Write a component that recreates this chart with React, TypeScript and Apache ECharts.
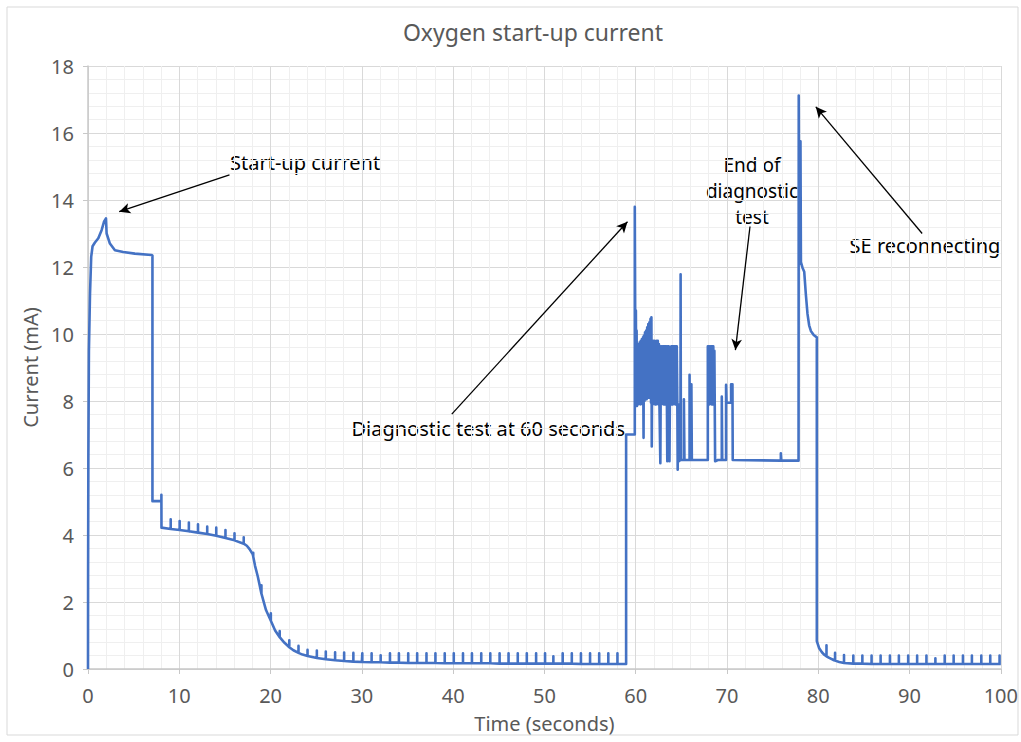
import React, { useEffect, useRef } from "react";
import * as echarts from "echarts";

// ---- Data (time in seconds, current in mA) ----
const startUp: [number, number][] = [
  [0, 0], [0.01, 2.86], [0.04, 6.3], [0.1, 9.5], [0.22, 11.2], [0.35, 12.3], [0.5, 12.62],
  [0.76, 12.73], [1.13, 12.86], [1.49, 13.1], [1.75, 13.35], [1.97, 13.45], [2.04, 13.0],
  [2.4, 12.7], [2.95, 12.5], [3.86, 12.45], [5.13, 12.4], [6.95, 12.36], [7.06, 12.34],
  [7.06, 5.01], [8.04, 5.01], [8.04, 5.2], [8.05, 4.22],
];

const midCurve: [number, number][] = [
  [8.06, 4.22], [17.4, 3.68], [17.7, 3.58], [18.05, 3.42], [18.3, 3.08], [18.6, 2.76],
  [19.5, 1.76], [20.5, 1.15], [21.5, 0.79], [22.5, 0.56], [23.5, 0.43], [30.0, 0.21],
  [58.95, 0.15],
];

// [time, base, peak]
const midSpikes: [number, number, number][] = [
  [9.06, 4.18, 4.47], [10.04, 4.15, 4.42], [11.05, 4.11, 4.37], [12.05, 4.07, 4.32],
  [13.06, 4.03, 4.25], [14.05, 3.98, 4.22], [15.06, 3.91, 4.15], [16.05, 3.84, 4.05],
  [17.06, 3.74, 3.93], [18.1, 3.36, 3.47], [19.0, 2.25, 2.5], [20.03, 1.44, 1.66],
  [21.0, 0.95, 1.13], [22.05, 0.65, 0.86], [23.06, 0.48, 0.69], [24.05, 0.39, 0.57],
  [25.07, 0.33, 0.55], [26.05, 0.29, 0.52], [27.07, 0.26, 0.5], [28.06, 0.24, 0.49],
  [29.07, 0.22, 0.48], [30.05, 0.21, 0.47], [31.07, 0.2, 0.47], [32.06, 0.2, 0.41],
  [33.08, 0.19, 0.47], [34.06, 0.19, 0.47], [35.08, 0.18, 0.47], [36.06, 0.18, 0.47],
  [37.08, 0.18, 0.47], [38.06, 0.18, 0.47], [39.08, 0.17, 0.47], [40.07, 0.17, 0.47],
  [41.08, 0.17, 0.47], [42.06, 0.17, 0.47], [43.08, 0.17, 0.47], [44.07, 0.17, 0.47],
  [45.09, 0.16, 0.47], [46.07, 0.16, 0.47], [47.08, 0.16, 0.47], [48.07, 0.16, 0.47],
  [49.09, 0.16, 0.47], [50.07, 0.16, 0.47], [50.98, 0.16, 0.38], [52.0, 0.16, 0.47],
  [53.0, 0.16, 0.47], [54.0, 0.15, 0.47], [55.0, 0.15, 0.47], [56.0, 0.15, 0.47],
  [57.0, 0.15, 0.47], [58.0, 0.15, 0.47],
];

const diagnostic: [number, number][] = [
  [58.95, 7.0], [59.9, 7.0], [59.9, 13.8], [59.94, 10.8], [59.98, 9.2], [60.02, 10.7], [60.06, 7.9],
  [60.1, 10.1], [60.14, 7.85], [60.2, 9.6], [60.26, 7.9], [60.32, 9.7], [60.38, 7.95], [60.44, 9.75],
  [60.5, 7.9], [60.56, 9.8], [60.62, 8.0], [60.68, 9.85], [60.74, 7.9], [60.8, 9.9], [60.86, 6.9],
  [60.9, 9.95], [60.96, 8.0], [61.02, 10.05], [61.08, 8.1], [61.14, 10.1], [61.2, 8.05],
  [61.26, 10.2], [61.32, 8.15], [61.38, 10.3], [61.44, 8.1], [61.5, 10.35], [61.56, 8.2],
  [61.62, 10.45], [61.68, 7.95], [61.72, 10.5], [61.76, 6.64],
  [61.82, 9.8], [61.88, 7.9], [61.94, 9.8], [62.0, 7.95], [62.06, 9.8], [62.12, 7.9], [62.18, 9.75],
  [62.24, 7.9], [62.3, 9.8], [62.36, 7.95], [62.42, 9.8], [62.48, 7.9], [62.54, 9.7], [62.6, 7.9],
  [62.7, 6.14],
  [62.76, 9.63], [62.82, 7.9], [62.88, 9.63], [62.94, 7.95], [63.0, 9.63], [63.06, 7.9],
  [63.12, 9.63], [63.18, 7.9], [63.24, 9.63], [63.3, 7.95], [63.36, 9.63], [63.42, 7.9],
  [63.46, 6.2], [63.5, 9.63], [63.56, 7.9], [63.62, 9.63], [63.7, 6.2], [63.74, 7.9],
  [63.9, 9.63], [63.96, 7.9], [64.02, 9.63], [64.08, 7.9], [64.14, 9.63], [64.2, 7.95],
  [64.26, 9.63], [64.32, 7.9], [64.38, 9.63], [64.44, 7.9], [64.5, 9.63], [64.56, 7.9],
  [64.6, 5.95], [64.66, 7.9], [64.72, 6.2],
  [64.9, 6.24], [64.92, 11.78], [64.95, 6.24], [65.28, 6.24], [65.28, 8.05], [65.34, 8.05],
  [65.34, 6.24], [65.9, 6.24], [65.9, 8.78], [65.95, 6.24], [66.1, 6.24], [66.1, 8.5],
  [66.15, 6.24], [67.9, 6.24],
  [67.9, 9.63], [67.96, 7.9], [68.02, 9.63], [68.08, 7.9], [68.14, 9.63], [68.2, 7.95],
  [68.26, 9.63], [68.32, 7.9], [68.38, 9.63], [68.44, 7.9], [68.5, 9.63], [68.56, 7.9],
  [68.62, 9.5], [68.7, 6.2], [69.0, 6.24], [69.43, 6.24], [69.43, 8.13], [69.48, 6.24],
  [69.9, 6.24], [69.9, 8.48], [69.95, 7.95], [70.45, 7.95], [70.45, 8.5], [70.6, 8.5],
  [70.63, 6.24], [75.9, 6.22], [75.9, 6.44], [75.95, 6.22], [77.84, 6.22],
];

const reconnect: [number, number][] = [
  [77.86, 17.12], [77.92, 12.3], [77.97, 12.1], [78.05, 15.75], [78.1, 12.15], [78.27, 11.98],
  [78.46, 11.86], [78.64, 11.18], [78.82, 10.6], [79.0, 10.26], [79.19, 10.09], [79.5, 9.97],
  [79.84, 9.9], [79.84, 0.83],
];

const tailCurve: [number, number][] = [
  [80.1, 0.62], [80.4, 0.5], [80.64, 0.43], [81.2, 0.33], [81.73, 0.26], [82.3, 0.21],
  [84.0, 0.16], [86.0, 0.15], [100, 0.15],
];

const tailSpikes: [number, number, number][] = [
  [80.9, 0.38, 0.71], [81.84, 0.25, 0.48], [82.82, 0.18, 0.42], [83.84, 0.16, 0.4],
  [84.83, 0.16, 0.4], [85.84, 0.15, 0.4], [86.83, 0.15, 0.4], [87.85, 0.15, 0.4],
  [88.83, 0.15, 0.4], [89.85, 0.15, 0.4], [90.83, 0.15, 0.4], [91.85, 0.15, 0.4],
  [92.83, 0.15, 0.32], [93.85, 0.15, 0.4], [94.83, 0.15, 0.4], [95.85, 0.15, 0.4],
  [96.83, 0.15, 0.4], [97.86, 0.15, 0.4], [98.84, 0.15, 0.4], [99.86, 0.15, 0.4],
];

const xTicks = { min: 0, max: 100, interval: 10 };
const yTicks = { min: 0, max: 18, interval: 2 };

// annotation arrows: [from, to] in data coordinates
const arrows: [[number, number], [number, number]][] = [
  [[15.5, 14.75], [3.42, 13.65]],
  [[39.85, 7.61], [59.1, 13.35]],
  [[72.52, 13.21], [70.92, 9.52]],
  [[91.38, 13.0], [79.73, 16.78]],
];

function merge(curve: [number, number][], spikes: [number, number, number][]) {
  const items: { t: number; pts: [number, number][] }[] = [];
  curve.forEach((p) => items.push({ t: p[0], pts: [p] }));
  spikes.forEach(([t, b, pk]) => items.push({ t, pts: [[t, b], [t, pk], [t, b]] }));
  items.sort((a, b) => a.t - b.t);
  const out: [number, number][] = [];
  items.forEach((i) => i.pts.forEach((p) => out.push(p)));
  return out;
}

const FONT = "'Noto Sans', 'Open Sans', sans-serif";

export default function App() {
  const ref = useRef<HTMLDivElement>(null);
  useEffect(() => {
    if (!ref.current) return;
    const chart = echarts.init(ref.current, undefined, { renderer: "svg" });
    const data: [number, number][] = [
      ...startUp,
      ...merge(midCurve, midSpikes),
      ...diagnostic,
      ...reconnect,
      ...merge(tailCurve, tailSpikes),
    ];
    const annText = (x: number, y: number, text: string, align = "left", size = 20, lh = 24) => ({
      type: "text",
      x,
      y,
      silent: true,
      style: {
        text,
        fill: "#000",
        stroke: "none",
        lineWidth: 0,
        font: `${size}px ${FONT}`,
        lineHeight: lh,
        align,
        verticalAlign: "middle",
      },
    });
    chart.setOption({
      animation: false,
      backgroundColor: "#fff",
      grid: { left: 88, top: 66, width: 916, height: 603, containLabel: false },
      xAxis: {
        type: "value",
        ...xTicks,
        name: "Time (seconds)",
        nameLocation: "middle",
        nameGap: 44,
        nameTextStyle: { color: "#595959", fontSize: 20, fontFamily: FONT },
        axisLine: { show: true, lineStyle: { color: "#c8c8c8", width: 1.5 } },
        axisTick: { show: true, length: 5, lineStyle: { color: "#c8c8c8" } },
        axisLabel: { color: "#595959", fontSize: 20, fontFamily: FONT, margin: 16 },
        splitLine: { show: true, lineStyle: { color: "#d9d9d9", width: 1 } },
        minorTick: { show: false, splitNumber: 5 },
        minorSplitLine: { show: true, lineStyle: { color: "#efefef", width: 1 } },
      },
      yAxis: {
        type: "value",
        ...yTicks,
        name: "Current (mA)",
        nameLocation: "middle",
        nameGap: 42,
        nameRotate: 90,
        nameTextStyle: { color: "#595959", fontSize: 20, fontFamily: FONT },
        axisLine: { show: true, lineStyle: { color: "#c8c8c8", width: 1.5 } },
        axisTick: { show: true, length: 5, lineStyle: { color: "#c8c8c8" } },
        axisLabel: { color: "#595959", fontSize: 20, fontFamily: FONT, margin: 14 },
        splitLine: { show: true, lineStyle: { color: "#d9d9d9", width: 1 } },
        minorTick: { show: false, splitNumber: 5 },
        minorSplitLine: { show: true, lineStyle: { color: "#efefef", width: 1 } },
      },
      series: [
        {
          type: "line",
          name: "Current",
          data,
          showSymbol: false,
          symbol: "none",
          lineStyle: { color: "#4472C4", width: 2.6, join: "round" },
          itemStyle: { color: "#4472C4" },
          silent: true,
          markLine: {
            silent: true,
            symbol: ["none", "arrow"],
            symbolSize: [8, 11],
            label: { show: false },
            lineStyle: { color: "#000", width: 1.3, type: "solid" },
            emphasis: { disabled: true },
            data: arrows.map(([a, b]) => [{ coord: a }, { coord: b }]),
          },
        },
      ],
      graphic: [
        {
          type: "rect",
          shape: { x: 7, y: 7, width: 1011, height: 728 },
          style: { fill: "none", stroke: "#d9d9d9", lineWidth: 1 },
          silent: true,
          z: -1,
        },
        {
          type: "text",
          x: 533,
          y: 32,
          silent: true,
          style: {
            text: "Oxygen start-up current",
            fill: "#595959",
            stroke: "none",
            lineWidth: 0,
            font: `23px ${FONT}`,
            align: "center",
            verticalAlign: "middle",
          },
        },
        annText(230, 162, "Start-up current"),
        annText(625, 428, "Diagnostic test at 60 seconds", "right"),
        annText(752, 191, "End of\ndiagnostic\ntest", "center", 19, 26),
        annText(925, 245, "SE reconnecting", "center"),
      ],
    });
    return () => chart.dispose();
  }, []);
  return (
    <div
      ref={ref}
      style={{ position: "absolute", left: 0, top: 0, width: 1021, height: 742 }}
    />
  );
}
